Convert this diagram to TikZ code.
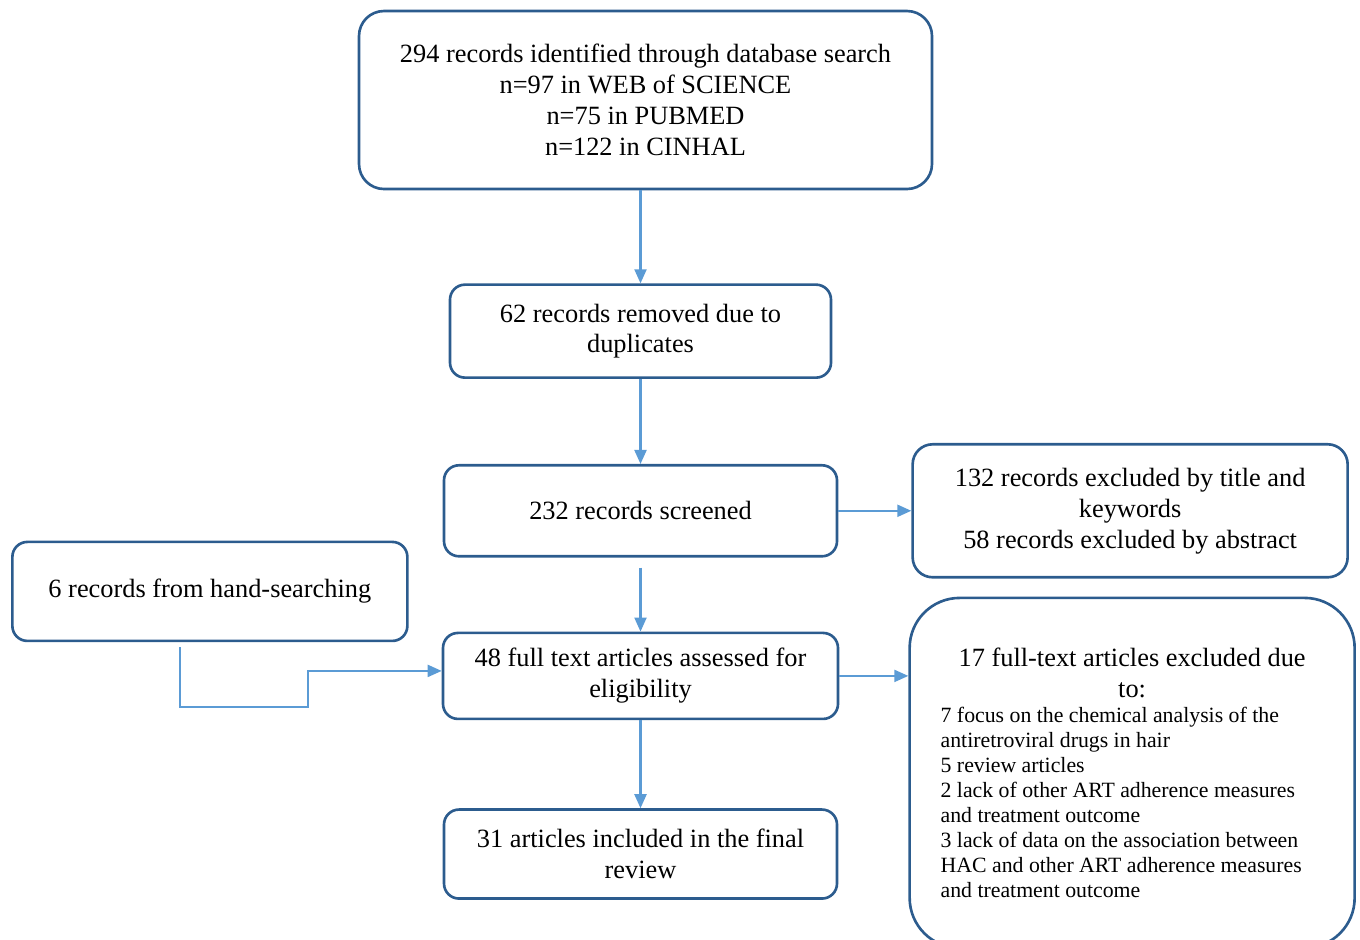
\documentclass[tikz,border=0pt]{standalone}
\usepackage{fontspec}
\setmainfont{Liberation Serif}
\usetikzlibrary{arrows.meta,positioning}
\definecolor{frameblue}{HTML}{2C5C8E}
\definecolor{linkblue}{HTML}{5B9BD5}

\begin{document}
\begin{tikzpicture}[
    stage/.style={draw=frameblue, line width=1.5pt, rounded corners=0.3cm, align=center, minimum width=7.9cm, minimum height=1.8cm, font=\fontsize{15}{17.6}\selectfont},
    link/.style={draw=linkblue, line width=1.2pt, -{Triangle[length=0.28cm,width=0.24cm]}}
  ]
    \useasboundingbox (0,0) rectangle (27.2,-18.78);
    \node[stage, minimum width=11.46cm, minimum height=3.56cm, rounded corners=0.5cm] (ident) at (12.91,-2.0) {294 records identified through database search\\n=97 in WEB of SCIENCE\\n=75 in PUBMED\\n=122 in CINHAL};
    \node[stage, below=1.86cm of ident, xshift=-0.1cm, minimum width=7.62cm, minimum height=1.86cm] (dupl) {62 records removed due to\\duplicates};
    \node[stage, below=1.7cm of dupl, minimum width=7.86cm, minimum height=1.82cm] (screen) {232 records screened};
    \node[stage, below=1.48cm of screen, minimum height=1.72cm] (full) {48 full text articles assessed for\\eligibility};
    \node[stage, below=1.76cm of full, minimum width=7.86cm, minimum height=1.78cm] (final) {31 articles included in the final\\review};
    \node[stage, right=1.46cm of screen, minimum width=8.7cm, minimum height=2.66cm, rounded corners=0.4cm] (excl) {132 records excluded by title and\\keywords\\58 records excluded by abstract};
    \node[stage, left=0.66cm of full, yshift=1.69cm, minimum height=1.98cm] (hand) {6 records from hand-searching};
    \node[stage, anchor=north west, text width=7.66cm, inner xsep=0.62cm, minimum width=8.9cm, minimum height=7.0cm, rounded corners=1cm, align=flush left] (fullex) at ([xshift=1.38cm,yshift=0.7cm]full.north east) {\spaceskip=0pt \xspaceskip=0pt
      {\centering 17 full-text articles excluded due\\to:\par}
      \raggedright\fontsize{12.4}{14.2}\selectfont 7 focus on the chemical analysis of the\par antiretroviral drugs in hair\par 5 review articles\par 2 lack of other ART adherence measures\par and treatment outcome\par 3 lack of data on the association between\par HAC and other ART adherence measures\par and treatment outcome\par};

    \draw[link] (dupl.north |- ident.south) -- (dupl.north);
    \draw[link] (dupl) -- (screen);
    \draw[link, shorten <=0.2cm] (screen) -- (full);
    \draw[link] (full) -- (final);
    \draw[link] (screen) -- (excl);
    \draw[link] (full.east) -- (full.east -| fullex.west);
    \draw[link] ([xshift=-0.59cm,yshift=-0.1cm]hand.south) -- ++(0,-1.2) -- ++(2.56,0) |- ([yshift=0.1cm]full.west);
  \end{tikzpicture}
\end{document}
